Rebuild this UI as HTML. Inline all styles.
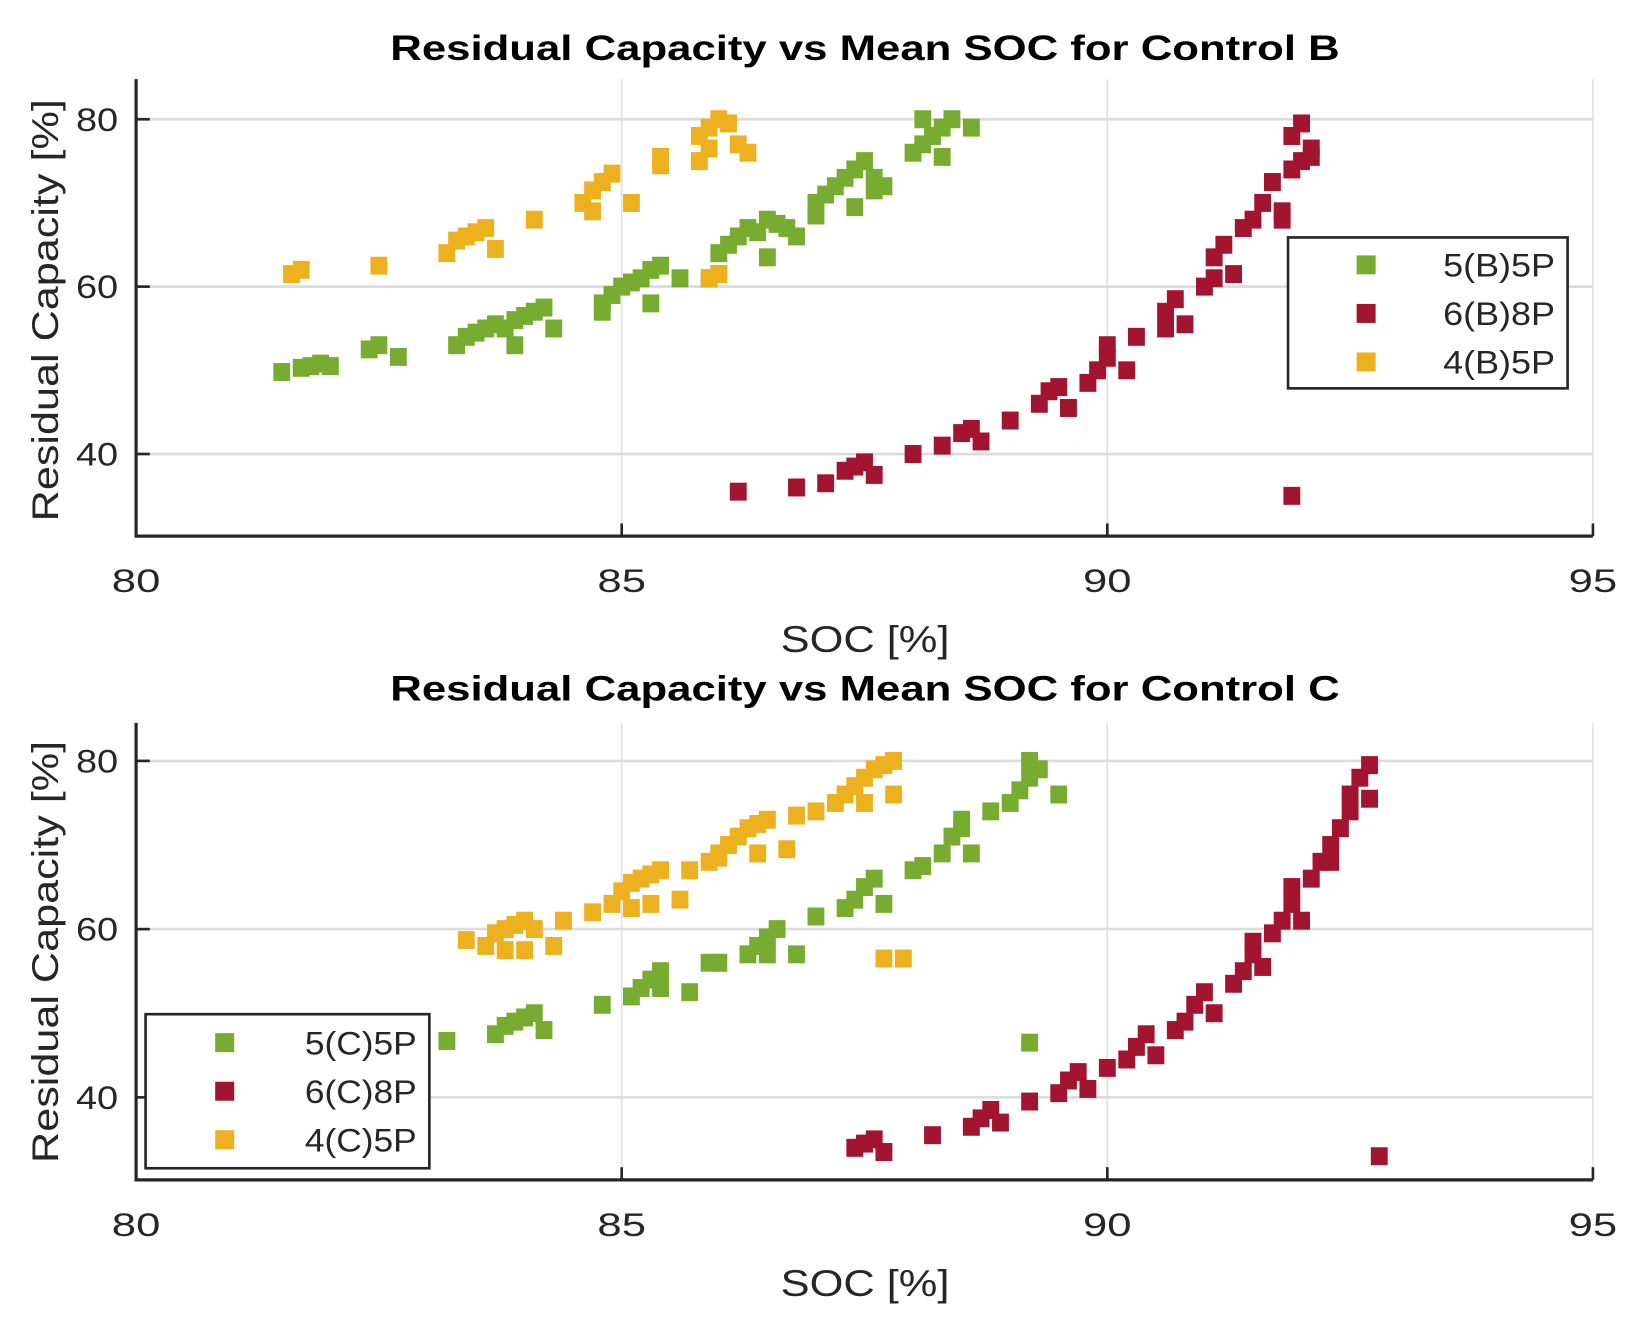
<!DOCTYPE html>
<html><head><meta charset="utf-8"><style>
html,body{margin:0;padding:0;background:#fff;}
svg{display:block;}
text{font-family:"Liberation Sans",sans-serif;}
</style></head><body>
<svg id="fig" width="1652" height="1335" viewBox="0 0 1566 1265" preserveAspectRatio="none" xmlns="http://www.w3.org/2000/svg"></svg>
<script>
const xTicks=[80,85,90,95];
const yTicks=[40,60,80];
const titles=["Residual Capacity vs Mean SOC for Control B","Residual Capacity vs Mean SOC for Control C"];
const seriesNamesB=["5(B)5P","6(B)8P","4(B)5P"];
const seriesNamesC=["5(C)5P","6(C)8P","4(C)5P"];
const colors=["#77ac30","#a2142f","#edb120"];
// Control B
const greenB_x=[81.5,81.7,81.8,81.9,82.0,82.4,82.5,82.7,83.3,83.4,83.5,83.6,83.7,83.8,83.9,84.0,84.1,84.2,83.9,84.3,84.8,84.9,85.0,85.1,85.2,85.3,85.4,84.8,85.3,85.6,85.9,86.0,86.0,86.1,86.2,86.3,86.4,86.5,86.6,86.7,86.5,86.8,87.0,87.1,87.2,87.3,87.4,87.5,87.6,87.7,87.0,87.4,87.6,88.0,88.1,88.2,88.3,88.4,88.1,88.3,88.6];
const greenB_y=[49.8,50.3,50.5,50.8,50.5,52.5,53,51.6,53,54,54.5,55,55.5,55,56,56.5,57,57.5,53,55,58,59,60,60.5,61,62,62.5,57,58,61,61,61.5,64,65,66,67,66.5,68,67.5,67,63.5,66,70,71,72,73,74,75,73,72,68.5,69.5,71.5,76,77,78,79,80,80,75.5,79];
const redB_x=[86.2,86.8,87.1,87.3,87.4,87.5,87.6,88.0,88.3,88.5,88.6,88.7,89.0,89.3,89.4,89.5,89.6,89.8,89.9,90.0,90.0,90.2,90.3,90.6,90.6,90.7,90.8,91.0,91.1,91.1,91.2,91.3,91.4,91.5,91.6,91.7,91.8,91.8,91.9,92.0,91.9,92.0,92.1,92.1,91.9];
const redB_y=[35.5,36,36.5,38,38.5,39,37.5,40,41,42.5,43,41.5,44,46,47.5,48,45.5,48.5,50,51.5,53,50,54,55,57,58.5,55.5,60,61,63.5,65,61.5,67,68,70,72.5,69,68,74,75,78,79.5,76.5,75.5,35];
const yellowB_x=[81.6,81.7,82.5,83.2,83.3,83.4,83.5,83.6,83.7,84.1,84.6,84.7,84.8,84.9,84.7,85.1,85.4,85.4,85.8,85.8,85.9,86.0,86.1,85.9,86.2,86.3,85.9,86.0];
const yellowB_y=[61.5,62,62.5,64,65.5,66,66.5,67,64.5,68,70,71.5,72.5,73.5,69,70,74.5,75.5,75,78,79,80,79.5,76.5,77,76,61,61.5];
// Control C
const greenC_x=[83.2,83.7,83.8,83.9,84.0,84.1,84.2,84.8,85.1,85.2,85.3,85.4,85.4,85.7,85.9,86.0,86.3,86.4,86.5,86.6,86.5,86.8,87.0,87.3,87.4,87.5,87.6,87.7,88.0,88.1,88.3,88.4,88.5,88.5,88.6,88.8,89.0,89.1,89.2,89.2,89.3,89.5,89.2];
const greenC_y=[46.7,47.5,48.5,49,49.5,50,48,51,52,53,54,55,53,52.5,56,56,57,58,59,60,57,57,61.5,62.5,63.5,65,66,63,67,67.5,69,71,72,73,69,74,75,76.5,78,80,79,76,46.5];
const redC_x=[87.4,87.5,87.6,87.7,88.2,88.6,88.7,88.8,88.9,89.2,89.5,89.6,89.7,89.8,90.0,90.2,90.3,90.4,90.5,90.7,90.8,90.9,91.0,91.1,91.3,91.4,91.5,91.5,91.6,91.7,91.8,91.9,91.9,92.0,92.1,92.2,92.3,92.4,92.3,92.5,92.5,92.6,92.7,92.7,92.8];
const redC_y=[34,34.5,35,33.5,35.5,36.5,37.5,38.5,37,39.5,40.5,42,43,41,43.5,44.5,46,47.5,45,48,49,51,52.5,50,53.5,55,57,58.5,55.5,59.5,61,63,65,61,66,68,70,72,68,74,76,78,79.5,75.5,33];
const yellowC_x=[83.4,83.6,83.7,83.8,83.9,84.0,84.1,83.8,84.0,84.3,84.4,84.7,84.9,85.0,85.1,85.2,85.3,85.4,85.1,85.3,85.6,85.7,85.9,86.0,86.1,86.2,86.3,86.4,86.5,86.0,86.4,86.7,86.8,87.0,87.2,87.3,87.4,87.5,87.6,87.7,87.8,87.5,87.8,87.9,87.7];
const yellowC_y=[58.7,58,59.5,60,60.5,61,60,57.5,57.5,58,61,62,63,64.5,65.5,66,66.5,67,62.5,63,63.5,67,68,69,70,71,72,72.5,73,68.5,69,69.5,73.5,74,75,76,77,78,79,79.5,80,75,76,56.5,56.5];

const NS="http://www.w3.org/2000/svg";
const svg=document.getElementById('fig');
function mk(tag,attrs,parent){const e=document.createElementNS(NS,tag);for(const k in attrs)e.setAttribute(k,attrs[k]);(parent||svg).appendChild(e);return e;}

function drawPanel(p){
  const L=129,R=1510,T=p.top,B=p.bottom;
  const xS=v=>L+(v-80)/15*(R-L);
  const yS=v=>p.y80+(80-v)*p.ppu;
  const g=mk('g',{});
  
  
  xTicks.forEach(t=>{
    const l=mk('line',{x1:xS(t),x2:xS(t),y1:T,y2:B,stroke:'#e0e0e0','stroke-width':1.5},g);
    
    
    const tk=mk('line',{x1:xS(t),x2:xS(t),y1:B,y2:B-12,stroke:'#262626','stroke-width':2.5},g);
    
    
    const tx=mk('text',{x:xS(t),y:B+53,'font-size':31,'text-anchor':'middle',fill:'#262626',textLength:46,lengthAdjust:'spacingAndGlyphs'},g);
    tx.textContent=t;
    
    
  });
  yTicks.forEach(t=>{
    const l=mk('line',{x1:L,x2:R,y1:yS(t),y2:yS(t),stroke:'#dcdcdc','stroke-width':2.5},g);
    
    
    const tk=mk('line',{x1:L,x2:L+13,y1:yS(t),y2:yS(t),stroke:'#262626','stroke-width':2.5},g);
    
    
    const tx=mk('text',{x:L-17,y:yS(t)+11,'font-size':31,'text-anchor':'end',fill:'#262626',textLength:40,lengthAdjust:'spacingAndGlyphs'},g);
    tx.textContent=t;
    
    
  });
  const ax=mk('path',{d:`M${L},${T} V${B} H${R}`,fill:'none',stroke:'#262626','stroke-width':3},g);
  
  
  const ti=mk('text',{x:820,y:p.titleY,'font-size':33,'font-weight':'bold','text-anchor':'middle',fill:'#000',textLength:900,lengthAdjust:'spacingAndGlyphs'},g);
  ti.textContent=p.title;
  
  
  const xl=mk('text',{x:820,y:B+110,'font-size':35,'text-anchor':'middle',fill:'#262626',textLength:160,lengthAdjust:'spacingAndGlyphs'},g);
  xl.textContent='SOC [%]';
  
  
  const yl=mk('text',{x:0,y:0,'font-size':35,'text-anchor':'middle',fill:'#262626',textLength:400,lengthAdjust:'spacingAndGlyphs',transform:`translate(55,${p.ylabC}) rotate(-90)`},g);
  yl.textContent='Residual Capacity [%]';
  
  
  const sw=16,sh=17;
  p.series.forEach((se,i)=>{
    se.x.forEach((xv,j)=>{
      const r=mk('rect',{x:xS(xv)-sw/2,y:yS(se.y[j])-sh/2,width:sw,height:sh,fill:colors[i]},g);
      
      
    });
  });
  const lg=mk('g',{},g);
  
  
  const b=p.leg;
  mk('rect',{x:b.x,y:b.y,width:b.w,height:b.h,fill:'#fff',stroke:'#262626','stroke-width':2.5},lg);
  p.names.forEach((n,i)=>{
    const cy=b.y+b.first+i*b.step;
    const m=mk('rect',{x:b.mx-9,y:cy-9,width:18,height:18,fill:colors[i]},lg);
    
    
    const t=mk('text',{x:b.x+b.w-12,y:cy+11,'font-size':31,'text-anchor':'end',fill:'#262626',textLength:106,lengthAdjust:'spacingAndGlyphs'},lg);
    t.textContent=n;
    
    
  });
}
drawPanel({name:'chart-control-b',top:75,bottom:508,y80:113,ppu:7.93,titleY:57,ylabC:294,title:titles[0],names:seriesNamesB,
  series:[{key:'5b5p',x:greenB_x,y:greenB_y},{key:'6b8p',x:redB_x,y:redB_y},{key:'4b5p',x:yellowB_x,y:yellowB_y}],
  leg:{x:1221,y:225,w:265,h:143,mx:1295,first:26,step:46}});
drawPanel({name:'chart-control-c',top:685,bottom:1118,y80:721,ppu:7.97,titleY:664,ylabC:902,title:titles[1],names:seriesNamesC,
  series:[{key:'5c5p',x:greenC_x,y:greenC_y},{key:'6c8p',x:redC_x,y:redC_y},{key:'4c5p',x:yellowC_x,y:yellowC_y}],
  leg:{x:138,y:961,w:269,h:146,mx:213,first:27,step:46}});
</script>
</body></html>
